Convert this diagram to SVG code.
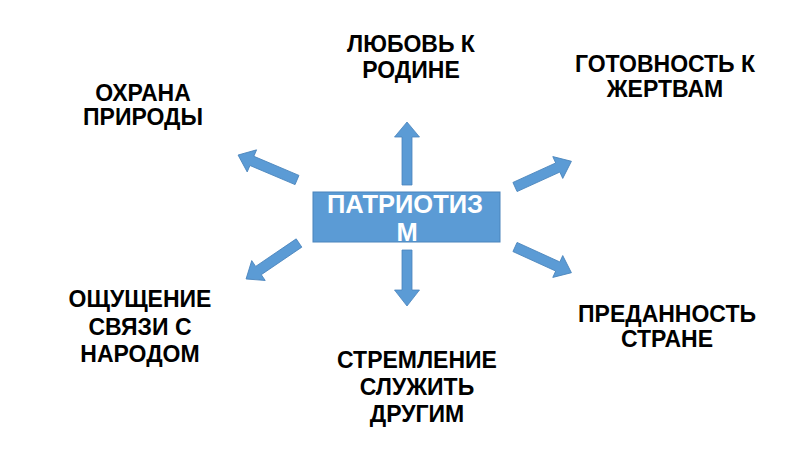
<svg xmlns="http://www.w3.org/2000/svg" width="800" height="450" viewBox="0 0 800 450">
<style>
.lbl{font-family:"Liberation Sans",Arial,sans-serif;font-weight:bold;font-size:23px;fill:#000;text-anchor:middle}
.ctr{font-family:"Liberation Sans",Arial,sans-serif;font-weight:bold;font-size:25.5px;fill:#fff;text-anchor:middle}
.arr{fill:#5B9BD5;stroke:#4A84BC;stroke-width:0.8}
</style>
<rect width="800" height="450" fill="#fff"/>
<g id="connectors">
<polygon class="arr" transform="translate(297,180) rotate(202.96)" points="0,-5 49,-5 49,-12 64,0 49,12 49,5 0,5"/>
<polygon class="arr" transform="translate(515,187) rotate(-24.5)" points="0,-5 47,-5 47,-12 62,0 47,12 47,5 0,5"/>
<polygon class="arr" transform="translate(299,243) rotate(145.8)" points="0,-5 49,-5 49,-12 64,0 49,12 49,5 0,5"/>
<polygon class="arr" transform="translate(515,247) rotate(24.5)" points="0,-5 47,-5 47,-12 62,0 47,12 47,5 0,5"/>
<polygon class="arr" transform="translate(407,185) rotate(-90)" points="0,-5 48,-5 48,-12.5 63,0 48,12.5 48,5 0,5"/>
<polygon class="arr" transform="translate(407,250) rotate(90)" points="0,-5 40,-5 40,-12.5 56,0 40,12.5 40,5 0,5"/>
</g>
<g id="center">
<rect x="313" y="192" width="187" height="50" fill="#5B9BD5" stroke="#4A84BC" stroke-width="1"/>
<text class="ctr" x="405" y="213">ПАТРИОТИЗ</text>
<text class="ctr" x="407" y="241">М</text>
</g>
<g id="love">
<text class="lbl" x="411" y="52">ЛЮБОВЬ К</text>
<text class="lbl" x="411" y="78">РОДИНЕ</text>
</g>
<g id="nature">
<text class="lbl" x="143" y="101">ОХРАНА</text>
<text class="lbl" x="143" y="125">ПРИРОДЫ</text>
</g>
<g id="sacrifice">
<text class="lbl" x="665" y="72">ГОТОВНОСТЬ К</text>
<text class="lbl" x="665" y="97">ЖЕРТВАМ</text>
</g>
<g id="people">
<text class="lbl" x="140" y="307">ОЩУЩЕНИЕ</text>
<text class="lbl" x="140" y="335">СВЯЗИ С</text>
<text class="lbl" x="140" y="362">НАРОДОМ</text>
</g>
<g id="devotion">
<text class="lbl" x="667" y="322">ПРЕДАННОСТЬ</text>
<text class="lbl" x="667" y="347">СТРАНЕ</text>
</g>
<g id="serve">
<text class="lbl" x="417" y="368">СТРЕМЛЕНИЕ</text>
<text class="lbl" x="417" y="395">СЛУЖИТЬ</text>
<text class="lbl" x="417" y="422">ДРУГИМ</text>
</g>
</svg>
